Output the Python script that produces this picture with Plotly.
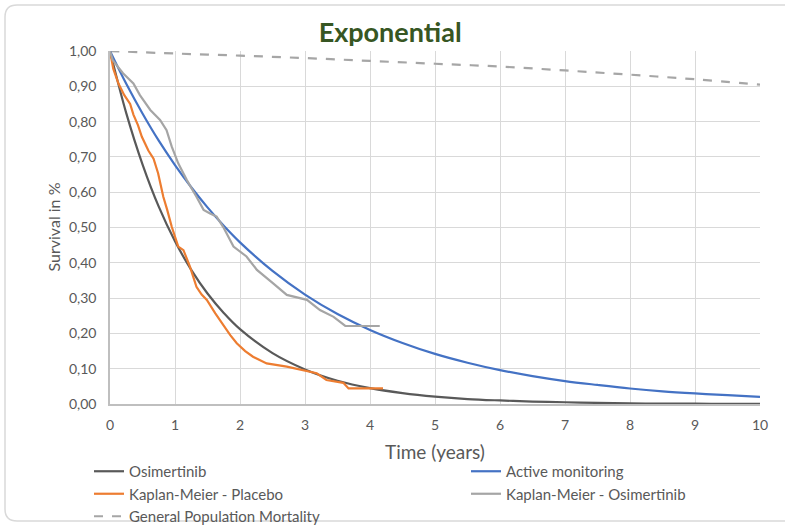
import plotly.graph_objects as go

# Fitted curves
t_fit = [0, 0.25, 0.5, 0.75, 1, 1.25, 1.5, 1.75, 2, 2.5, 3, 3.5, 4, 4.5, 5, 5.5, 6, 6.5, 7, 7.5, 8, 8.5, 9, 9.5, 10]
osimertinib = [1.0, 0.824, 0.679, 0.559, 0.461, 0.380, 0.313, 0.258, 0.212, 0.144, 0.098, 0.066, 0.045,
               0.031, 0.021, 0.014, 0.010, 0.007, 0.005, 0.003, 0.002, 0.001, 0.001, 0.0005, 0.0004]
active_monitoring = [1.0, 0.907, 0.823, 0.746, 0.677, 0.614, 0.557, 0.505, 0.458, 0.377, 0.310, 0.255, 0.210,
                     0.173, 0.142, 0.117, 0.096, 0.079, 0.065, 0.054, 0.044, 0.036, 0.030, 0.025, 0.020]

t_gpm = [0, 1, 2, 3, 4, 5, 6, 7, 8, 9, 10]
gen_pop = [1.0, 0.993, 0.987, 0.980, 0.972, 0.964, 0.956, 0.945, 0.933, 0.920, 0.905]

# Kaplan-Meier - Placebo
t_km_pl = [0, 0.05, 0.13, 0.22, 0.31, 0.36, 0.43, 0.49, 0.59, 0.67, 0.74, 0.82, 0.88, 0.95, 1.05, 1.13,
           1.23, 1.33, 1.41, 1.49, 1.62, 1.74, 1.85, 1.95, 2.08, 2.2, 2.41, 2.72, 2.97, 3.18, 3.33, 3.59,
           3.67, 4.2]
km_placebo = [1.0, 0.95, 0.908, 0.875, 0.85, 0.82, 0.79, 0.757, 0.718, 0.695, 0.654, 0.587, 0.55, 0.502,
              0.446, 0.436, 0.389, 0.332, 0.31, 0.295, 0.257, 0.224, 0.195, 0.172, 0.15, 0.134, 0.115,
              0.106, 0.096, 0.087, 0.068, 0.06, 0.044, 0.044]

# Kaplan-Meier - Osimertinib
t_km_os = [0, 0.04, 0.08, 0.2, 0.36, 0.46, 0.62, 0.77, 0.87, 0.95, 1.05, 1.18, 1.33, 1.44, 1.54, 1.64,
           1.74, 1.79, 1.9, 2.1, 2.26, 2.51, 2.72, 3.03, 3.23, 3.44, 3.62, 4.15]
km_osimertinib = [1.0, 0.975, 0.965, 0.937, 0.908, 0.875, 0.833, 0.805, 0.776, 0.729, 0.682, 0.635,
                  0.587, 0.55, 0.54, 0.531, 0.502, 0.484, 0.446, 0.418, 0.38, 0.342, 0.309, 0.295,
                  0.266, 0.247, 0.221, 0.221]

x_ticks = list(range(0, 11))
y_ticks = [i / 10 for i in range(0, 11)]

fig = go.Figure()
fig.add_trace(go.Scatter(x=t_fit, y=osimertinib, mode="lines", name="Osimertinib",
                         line=dict(color="#595959", width=2.2, shape="spline"), legend="legend"))
fig.add_trace(go.Scatter(x=t_km_pl, y=km_placebo, mode="lines", name="Kaplan-Meier - Placebo",
                         line=dict(color="#ed7d31", width=2.2), legend="legend"))
fig.add_trace(go.Scatter(x=t_gpm, y=gen_pop, mode="lines", name="General Population Mortality",
                         line=dict(color="#a6a6a6", width=2.2, dash="dash", shape="spline"), legend="legend"))
fig.add_trace(go.Scatter(x=t_fit, y=active_monitoring, mode="lines", name="Active monitoring",
                         line=dict(color="#4472c4", width=2.2, shape="spline"), legend="legend2"))
fig.add_trace(go.Scatter(x=t_km_os, y=km_osimertinib, mode="lines", name="Kaplan-Meier - Osimertinib",
                         line=dict(color="#a5a5a5", width=2.2), legend="legend2"))

L, R, T, B = 110, 25, 51, 121
W, H = 785, 525
pw, ph = W - L - R, H - T - B

def px(x):
    return (x - L) / pw

def py(y):
    return (H - B - y) / ph

def cx(x):
    return x / W

def cy(y):
    return 1 - y / H

# rounded border
x0, x1, y0, y1 = px(5), px(800), py(521), py(5)
rx, ry = 12 / pw, 12 / ph
path = (f"M {x0+rx},{y1} L {x1},{y1} L {x1},{y0} L {x0+rx},{y0} "
        f"Q {x0},{y0} {x0},{y0+ry} L {x0},{y1-ry} Q {x0},{y1} {x0+rx},{y1} Z")

fig.update_layout(
    width=W, height=H,
    margin=dict(l=L, r=R, t=T, b=B, autoexpand=False),
    paper_bgcolor="white", plot_bgcolor="white",
    separators=", ",
    font=dict(family="Lato, Open Sans, sans-serif", color="#595959"),
    title=dict(text="<b>Exponential</b>", x=0.497, xanchor="center", y=cy(33), yanchor="middle",
               font=dict(size=27, color="#375623", family="Lato, Open Sans, sans-serif")),
    xaxis=dict(range=[0, 10], tickvals=x_ticks, showgrid=True, gridcolor="#d9d9d9", gridwidth=1,
               showline=True, linecolor="#bfbfbf", linewidth=1.5, zeroline=False, automargin=False,
               ticks="", tickfont=dict(size=14, color="#595959"), ticklabelstandoff=7),
    yaxis=dict(range=[0, 1.0001], tickvals=y_ticks, tickformat=".2f", showgrid=True, gridcolor="#d9d9d9",
               gridwidth=1, showline=True, linecolor="#bfbfbf", linewidth=1.5, zeroline=False, automargin=False,
               ticks="", tickfont=dict(size=14, color="#595959"), ticklabelstandoff=9),
    legend=dict(xref="container", yref="container", x=cx(89), y=cy(455), xanchor="left", yanchor="top",
                orientation="v", font=dict(size=15, color="#595959"), tracegroupgap=0, maxheight=0.9,
                bgcolor="rgba(0,0,0,0)"),
    legend2=dict(xref="container", yref="container", x=cx(466), y=cy(455), xanchor="left", yanchor="top",
                 orientation="v", font=dict(size=15, color="#595959"), tracegroupgap=0, maxheight=0.9,
                 bgcolor="rgba(0,0,0,0)"),
    annotations=[
        dict(text="Time (years)", xref="paper", yref="paper", x=0.5, y=py(451), xanchor="center",
             yanchor="middle", showarrow=False, font=dict(size=19, color="#595959")),
        dict(text="Survival in %", xref="paper", yref="paper", x=px(53), y=0.5, xanchor="center",
             yanchor="middle", textangle=-90, showarrow=False, font=dict(size=16, color="#595959")),
    ],
    shapes=[dict(type="path", path=path, xref="paper", yref="paper",
                 line=dict(color="#d9d9d9", width=1.5), fillcolor="rgba(0,0,0,0)", layer="below")],
)

fig.write_html("out.html")
